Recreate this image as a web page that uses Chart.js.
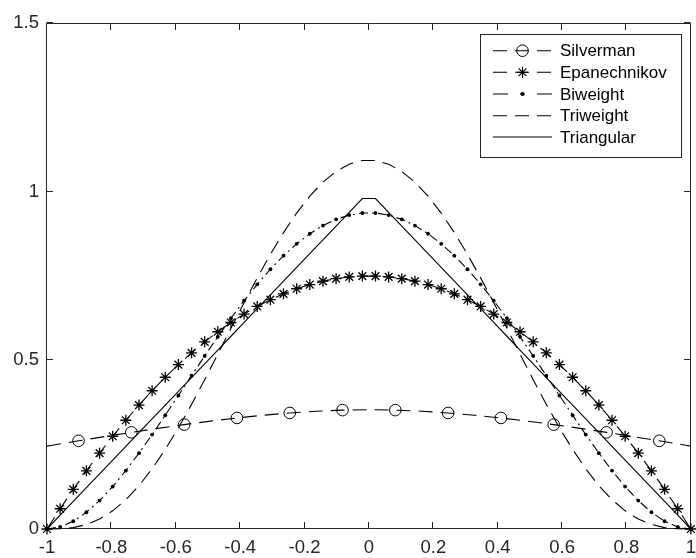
<!DOCTYPE html>
<html>
<head>
<meta charset="utf-8">
<script src="https://cdn.jsdelivr.net/npm/chart.js@4.4.1/dist/chart.umd.min.js"></script>
<style>
  html, body { margin: 0; padding: 0; background: #fff; overflow: hidden; }
  #wrap { position: relative; width: 704px; height: 558px; }
</style>
</head>
<body>
<div id="wrap"><canvas id="kernels" width="704" height="558"></canvas></div>
<script>
// sample grid (50 points between -1 and 1)
const xGrid = [
  -1, -0.9592, -0.9184, -0.8776, -0.8367, -0.7959, -0.7551, -0.7143, -0.6735, -0.6327,
  -0.5918, -0.5510, -0.5102, -0.4694, -0.4286, -0.3878, -0.3469, -0.3061, -0.2653, -0.2245,
  -0.1837, -0.1429, -0.1020, -0.0612, -0.0204,
  0.0204, 0.0612, 0.1020, 0.1429, 0.1837, 0.2245, 0.2653, 0.3061, 0.3469, 0.3878,
  0.4286, 0.4694, 0.5102, 0.5510, 0.5918, 0.6327, 0.6735, 0.7143, 0.7551, 0.7959,
  0.8367, 0.8776, 0.9184, 0.9592, 1
];

const epanechnikov = [
  0, 0.0600, 0.1175, 0.1724, 0.2249, 0.2749, 0.3224, 0.3673, 0.4098, 0.4498,
  0.4873, 0.5223, 0.5548, 0.5848, 0.6122, 0.6372, 0.6597, 0.6797, 0.6972, 0.7122,
  0.7247, 0.7347, 0.7422, 0.7472, 0.7497,
  0.7497, 0.7472, 0.7422, 0.7347, 0.7247, 0.7122, 0.6972, 0.6797, 0.6597, 0.6372,
  0.6122, 0.5848, 0.5548, 0.5223, 0.4873, 0.4498, 0.4098, 0.3673, 0.3224, 0.2749,
  0.2249, 0.1724, 0.1175, 0.0600, 0
];

const biweight = [
  0, 0.0060, 0.0230, 0.0496, 0.0843, 0.1259, 0.1732, 0.2249, 0.2799, 0.3372,
  0.3958, 0.4546, 0.5130, 0.5699, 0.6247, 0.6768, 0.7254, 0.7700, 0.8102, 0.8454,
  0.8753, 0.8996, 0.9181, 0.9305, 0.9367,
  0.9367, 0.9305, 0.9181, 0.8996, 0.8753, 0.8454, 0.8102, 0.7700, 0.7254, 0.6768,
  0.6247, 0.5699, 0.5130, 0.4546, 0.3958, 0.3372, 0.2799, 0.2249, 0.1732, 0.1259,
  0.0843, 0.0496, 0.0230, 0.0060, 0
];

const triweight = [
  0, 0.0006, 0.0042, 0.0133, 0.0295, 0.0539, 0.0869, 0.1285, 0.1785, 0.2360,
  0.3000, 0.3694, 0.4427, 0.5184, 0.5950, 0.6709, 0.7444, 0.8142, 0.8787, 0.9366,
  0.9868, 1.0281, 1.0599, 1.0815, 1.0924,
  1.0924, 1.0815, 1.0599, 1.0281, 0.9868, 0.9366, 0.8787, 0.8142, 0.7444, 0.6709,
  0.5950, 0.5184, 0.4427, 0.3694, 0.3000, 0.2360, 0.1785, 0.1285, 0.0869, 0.0539,
  0.0295, 0.0133, 0.0042, 0.0006, 0
];

const triangular = [
  0, 0.0408, 0.0816, 0.1224, 0.1633, 0.2041, 0.2449, 0.2857, 0.3265, 0.3673,
  0.4082, 0.4490, 0.4898, 0.5306, 0.5714, 0.6122, 0.6531, 0.6939, 0.7347, 0.7755,
  0.8163, 0.8571, 0.8980, 0.9388, 0.9796,
  0.9796, 0.9388, 0.8980, 0.8571, 0.8163, 0.7755, 0.7347, 0.6939, 0.6531, 0.6122,
  0.5714, 0.5306, 0.4898, 0.4490, 0.4082, 0.3673, 0.3265, 0.2857, 0.2449, 0.2041,
  0.1633, 0.1224, 0.0816, 0.0408, 0
];

// Silverman is sampled on its own grid; circles only on every other point
const silvermanX = [
  -1, -0.984, -0.902, -0.82, -0.738, -0.656, -0.574, -0.492, -0.41, -0.328, -0.246, -0.164, -0.082,
  0,
  0.082, 0.164, 0.246, 0.328, 0.41, 0.492, 0.574, 0.656, 0.738, 0.82, 0.902, 0.984, 1
];
const silverman = [
  0.2458, 0.2484, 0.2614, 0.2741, 0.2865, 0.2984, 0.3095, 0.3199, 0.3292, 0.3373, 0.3440, 0.3492, 0.3524,
  0.3536,
  0.3524, 0.3492, 0.3440, 0.3373, 0.3292, 0.3199, 0.3095, 0.2984, 0.2865, 0.2741, 0.2614, 0.2484, 0.2458
];
const silvermanMarkX = [-0.902, -0.738, -0.574, -0.41, -0.246, -0.082, 0.082, 0.246, 0.41, 0.574, 0.738, 0.902];

const seriesNames = ['Silverman', 'Epanechnikov', 'Biweight', 'Triweight', 'Triangular'];
const xTicks = [-1, -0.8, -0.6, -0.4, -0.2, 0, 0.2, 0.4, 0.6, 0.8, 1];
const yTicks = [0, 0.5, 1, 1.5];

const AXIS = '#262626';
const FONT = '"Liberation Sans", Arial, Helvetica, sans-serif';
const DASH = [14, 8];
const DASHDOT = [9, 4, 2, 4];

const pts = (xs, ys) => xs.map((x, i) => ({ x: x, y: ys[i] }));

// marker drawing shared by the legend
function drawMarker(ctx, style, cx, cy, r) {
  ctx.save();
  ctx.strokeStyle = '#000';
  ctx.fillStyle = '#000';
  ctx.lineWidth = 1.2;
  ctx.setLineDash([]);
  ctx.beginPath();
  if (style === 'circle') {
    ctx.lineWidth = 1;
    ctx.arc(cx, cy, r, 0, Math.PI * 2);
    ctx.stroke();
  } else if (style === 'star') {
    for (let k = 0; k < 4; k++) {
      const a = k * Math.PI / 4;
      ctx.moveTo(cx - Math.cos(a) * r, cy - Math.sin(a) * r);
      ctx.lineTo(cx + Math.cos(a) * r, cy + Math.sin(a) * r);
    }
    ctx.stroke();
  } else if (style === 'dot') {
    ctx.arc(cx, cy, r, 0, Math.PI * 2);
    ctx.fill();
  }
  ctx.restore();
}

// box axes with inward ticks, drawn under the curves
const boxAxes = {
  id: 'boxAxes',
  beforeDatasetsDraw(chart) {
    const { ctx, chartArea: a, scales: { x, y } } = chart;
    const L = Math.round(a.left) - 0.5, R = Math.round(a.right) - 0.5;
    const T = Math.round(a.top) + 0.5, B = Math.round(a.bottom) - 0.5;
    const tl = 6.5;
    ctx.save();
    ctx.strokeStyle = AXIS;
    ctx.lineWidth = 1;
    ctx.beginPath();
    ctx.rect(L, T, R - L, B - T);
    xTicks.forEach(v => {
      const px = Math.round(x.getPixelForValue(v)) - 0.5;
      ctx.moveTo(px, B); ctx.lineTo(px, B - tl);
      ctx.moveTo(px, T); ctx.lineTo(px, T + tl);
    });
    yTicks.forEach(v => {
      const py = Math.round(y.getPixelForValue(v)) - 0.5;
      ctx.moveTo(L, py); ctx.lineTo(L + tl, py);
      ctx.moveTo(R, py); ctx.lineTo(R - tl, py);
    });
    ctx.stroke();
    ctx.restore();
  }
};

const boxLegend = {
  id: 'boxLegend',
  afterDraw(chart) {
    const ctx = chart.ctx;
    const bx = 480.5, by = 34.5, bw = 201, bh = 123;
    const x0 = 493, x1 = 552, rowY = [50.7, 72.3, 94, 115.7, 137];
    ctx.save();
    ctx.fillStyle = '#fff';
    ctx.fillRect(bx, by, bw, bh);
    ctx.strokeStyle = AXIS;
    ctx.lineWidth = 1;
    ctx.strokeRect(bx, by, bw, bh);
    ctx.font = '17px ' + FONT;
    ctx.textBaseline = 'middle';
    ctx.textAlign = 'left';
    chart.data.datasets.forEach((ds, i) => {
      const cy = rowY[i];
      ctx.save();
      ctx.strokeStyle = '#000';
      ctx.lineWidth = ds.borderWidth;
      ctx.setLineDash(ds.legendDash || []);
      ctx.beginPath();
      ctx.moveTo(x0, cy); ctx.lineTo(x1, cy);
      ctx.stroke();
      ctx.restore();
      if (ds.legendMarker) drawMarker(ctx, ds.legendMarker, (x0 + x1) / 2, cy, ds.legendRadius);
      ctx.fillStyle = '#000';
      ctx.fillText(seriesNames[i], 560, cy + 1);
    });
    ctx.restore();
  }
};

new Chart(document.getElementById('kernels'), {
  type: 'line',
  data: {
    datasets: [{
      label: seriesNames[0],
      data: pts(silvermanX, silverman),
      borderColor: '#000', borderWidth: 1.1, borderDash: DASH,
      pointStyle: 'circle',
      pointRadius: ctx => (ctx.raw && silvermanMarkX.includes(ctx.raw.x)) ? 5.8 : 0,
      pointBackgroundColor: 'rgba(0,0,0,0)', pointBorderColor: '#000', pointBorderWidth: 1,
      legendDash: DASH, legendMarker: 'circle', legendRadius: 5.8,
      order: 5
    }, {
      label: seriesNames[1],
      data: pts(xGrid, epanechnikov),
      borderColor: '#000', borderWidth: 1.1, borderDash: DASH,
      pointStyle: 'star', pointRadius: 5.5,
      pointBorderColor: '#000', pointBorderWidth: 1.3,
      legendDash: DASH, legendMarker: 'star', legendRadius: 5.5,
      order: 4
    }, {
      label: seriesNames[2],
      data: pts(xGrid, biweight),
      borderColor: '#000', borderWidth: 1.1, borderDash: DASHDOT,
      pointStyle: 'circle', pointRadius: 1.9,
      pointBackgroundColor: '#000', pointBorderColor: '#000', pointBorderWidth: 0,
      legendDash: [15, 12, 5, 12, 15], legendMarker: 'dot', legendRadius: 2,
      order: 3
    }, {
      label: seriesNames[3],
      data: pts(xGrid, triweight),
      borderColor: '#000', borderWidth: 1.1, borderDash: DASH,
      pointRadius: 0,
      legendDash: DASH,
      order: 2
    }, {
      label: seriesNames[4],
      data: pts(xGrid, triangular),
      borderColor: '#000', borderWidth: 1.1,
      pointRadius: 0,
      order: 1
    }]
  },
  options: {
    responsive: false,
    animation: false,
    events: [],
    layout: { padding: { top: 23, right: 6, left: 0, bottom: 0 } },
    elements: { line: { tension: 0, fill: false } },
    datasets: { line: { clip: false } },
    plugins: { legend: { display: false }, tooltip: { enabled: false } },
    scales: {
      x: {
        type: 'linear', min: -1, max: 1,
        afterBuildTicks: s => { s.ticks = xTicks.map(v => ({ value: v })); },
        afterFit: s => { s.height = 29; },
        border: { display: false },
        grid: { display: false, drawTicks: false },
        ticks: {
          color: AXIS, padding: 8, maxRotation: 0, autoSkip: false,
          font: { family: FONT, size: 18.5 },
          callback: v => String(Math.round(v * 10) / 10)
        }
      },
      y: {
        type: 'linear', min: 0, max: 1.5,
        afterBuildTicks: s => { s.ticks = yTicks.map(v => ({ value: v })); },
        afterFit: s => { s.width = 47; },
        border: { display: false },
        grid: { display: false, drawTicks: false },
        ticks: {
          color: AXIS, padding: 8,
          font: { family: FONT, size: 18.5 },
          callback: v => String(v)
        }
      }
    }
  },
  plugins: [boxAxes, boxLegend]
});
</script>
</body>
</html>
